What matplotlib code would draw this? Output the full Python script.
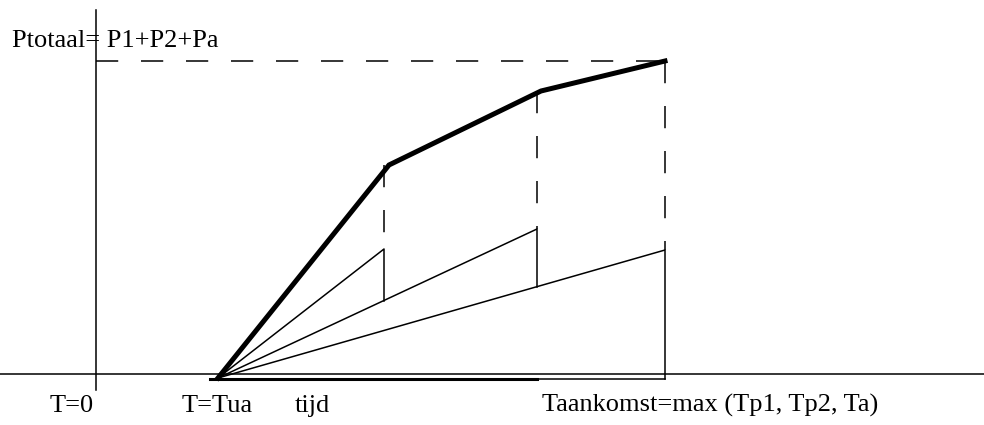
import matplotlib
matplotlib.use("Agg")
import matplotlib.pyplot as plt

# --- diagram data (pixel-like units, y measured upwards) ---
t_start = 218          # T=Tua
p_start = 47
t_marks = [384, 537, 665]            # end times of the three contributions
fan_top = [176, 196, 175]            # top of each straight contribution line
fan_bottom = [124, 138, 46]          # foot of the vertical drop
total_t = [218, 389, 541, 665]       # thick Ptotaal curve
total_p = [47, 260, 334, 364]
dash_top = [260, 334, 364]           # dashed verticals reach the thick curve

axis_x = 96
axis_y = 51
base_y = 46

labels = ["T=0", "T=Tua", "tijd", "Taankomst=max (Tp1, Tp2, Ta)"]
label_x = [50, 182, 295, 542]
top_label = "Ptotaal= P1+P2+Pa"

plt.rcParams["lines.scale_dashes"] = False
fig = plt.figure(figsize=(9.84, 4.25), dpi=100)
ax = fig.add_axes([0, 0, 1, 1])
ax.set_xlim(0, 984)
ax.set_ylim(0, 425)
ax.axis("off")

k = "black"
thin = 1.1

# axes
ax.plot([axis_x, axis_x], [35, 415], color=k, lw=thin)
ax.plot([0, 984], [axis_y, axis_y], color=k, lw=thin)

# lower base line and thick segment
ax.plot([t_start, t_marks[-1]], [base_y, base_y], color=k, lw=thin)
ax.plot([210, t_marks[1]], [base_y, base_y], color=k, lw=2.2)

# fan of contributions with vertical drops
for t, top, bot in zip(t_marks, fan_top, fan_bottom):
    ax.plot([t_start, t, t], [p_start, top, bot], color=k, lw=thin)

# dashed construction lines (drawn from the top down)
dash = (0, (16.0, 16.4))
for t, top, d in zip(t_marks, fan_top, dash_top):
    ax.plot([t, t], [d, top], color=k, lw=thin, linestyle=dash)
ax.plot([axis_x, t_marks[-1]], [total_p[-1], total_p[-1]], color=k, lw=thin,
        linestyle=dash)

# thick total curve
ax.plot(total_t, total_p, color=k, lw=3.6, solid_joinstyle="miter")

font = dict(family="Liberation Serif", fontsize=19, color=k)
ax.text(12, 425 - 47, top_label, va="baseline", ha="left", **font)
for x, s in zip(label_x, labels):
    ax.text(x, 425 - 412, s, va="baseline", ha="left", **font)

fig.savefig("out.png", dpi=100)
